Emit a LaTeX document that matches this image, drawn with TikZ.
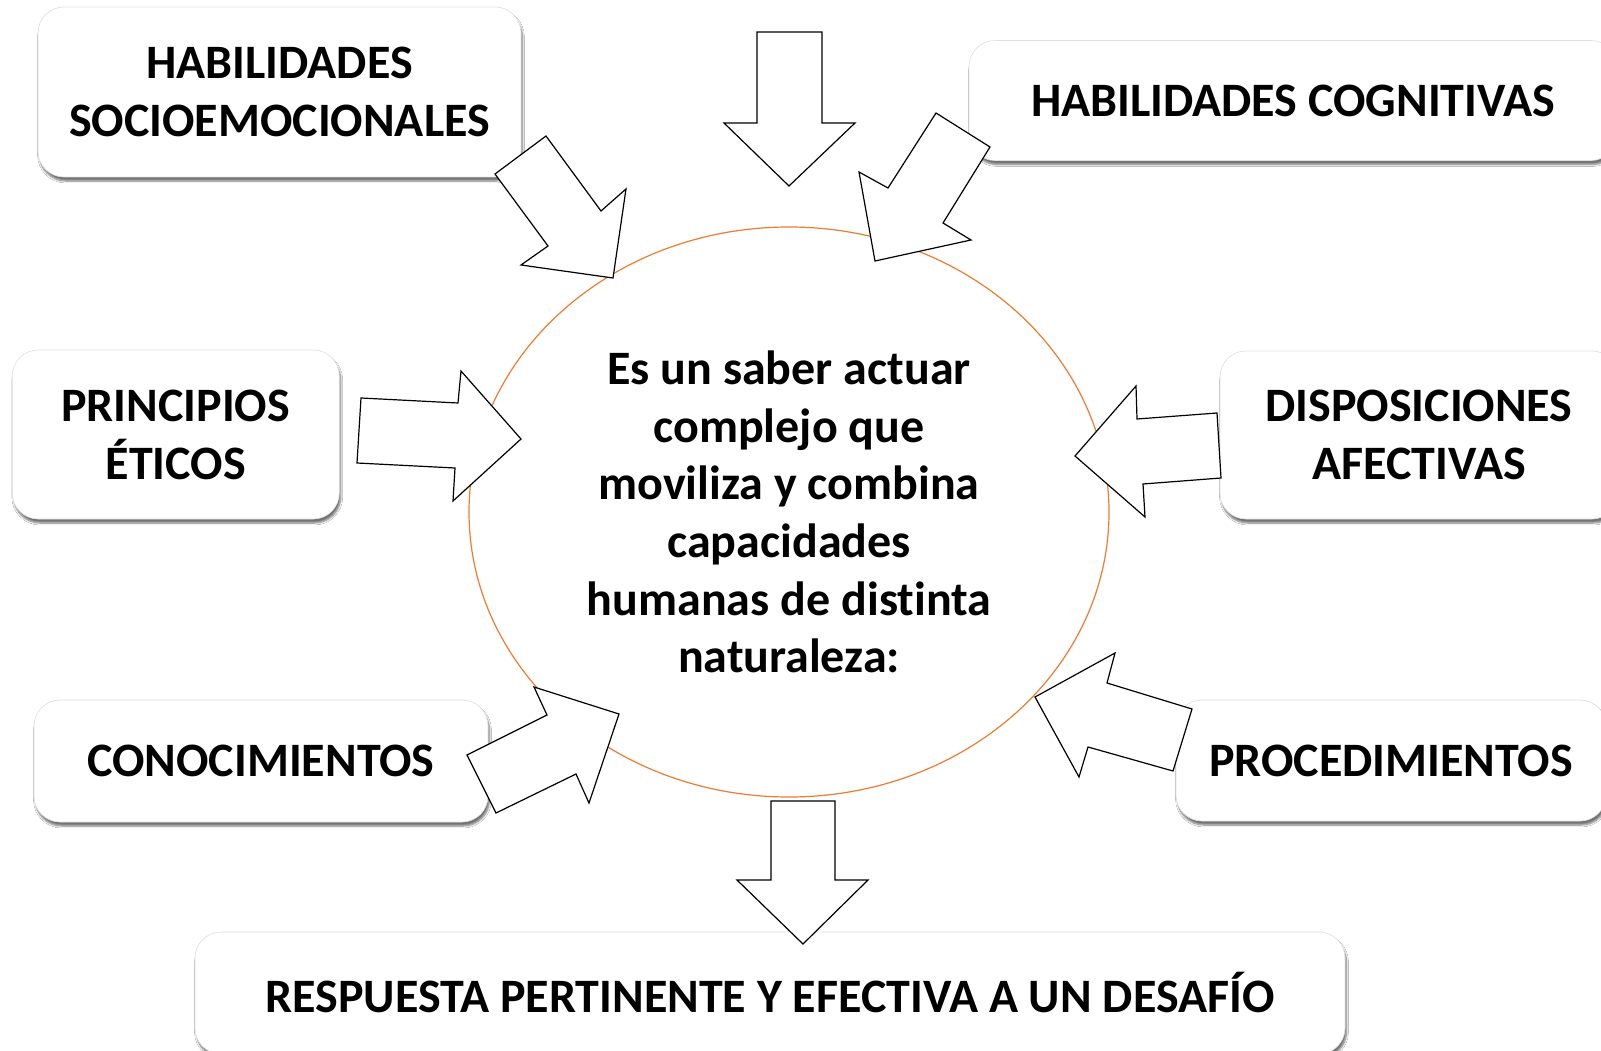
\documentclass[tikz,border=0pt]{standalone}
\usepackage{fontspec}
\setmainfont{Carlito}[Ligatures=NoCommon]
\usetikzlibrary{shapes.geometric,shadows.blur}
\definecolor{orangeC}{HTML}{ED7D31}
\tikzset{
  box/.style={rounded corners=26pt, fill=white, draw=black!12, line width=0.6pt,
    blur shadow={shadow xshift=1.5pt, shadow yshift=-4pt, shadow blur steps=6, shadow opacity=55},
    align=center, inner sep=0pt, font=\bfseries\fontsize{48}{58}\selectfont},
  blockarrow/.style={fill=white, draw=black, line width=1.2pt, line join=miter},
  centertext/.style={ellipse, draw=orangeC, line width=1.2pt, minimum width=640pt, minimum height=570pt,
    inner sep=0pt, align=center, font=\bfseries\fontsize{48}{57.6}\selectfont}
}
\begin{document}
\begin{tikzpicture}[x=1pt,y=-1pt]
\useasboundingbox (0,0) rectangle (1601,1051);
\fill[white] (0,0) rectangle (1601,1051);
% boxes
\node[box, minimum width=483pt, minimum height=170pt] (b1) at (279.5,92) {HABILIDADES\\SOCIOEMOCIONALES};
\node[box, minimum width=648pt, minimum height=120pt] (b2) at (1293,100.5) {HABILIDADES COGNITIVAS};
\node[box, minimum width=327pt, minimum height=169pt] (b3) at (175.75,434.5) {PRINCIPIOS\\ÉTICOS};
\node[box, minimum width=398pt, minimum height=168pt] (b4) at (1419,435) {DISPOSICIONES\\AFECTIVAS};
\node[box, minimum width=454pt, minimum height=122pt] (b5) at (261,761) {CONOCIMIENTOS};
\node[box, minimum width=430pt, minimum height=121pt] (b6) at (1391,760.5) {PROCEDIMIENTOS};
\node[box, minimum width=1150pt, minimum height=122pt] (b7) at (770,993) {RESPUESTA PERTINENTE Y EFECTIVA A UN DESAFÍO};
% center
\node[centertext] (c) at (789,512) {Es un saber actuar\\complejo que\\moviliza y combina\\capacidades\\humanas de distinta\\naturaleza:};
% arrows
\draw[blockarrow] (757,32) -- (822,32) -- (822,123) -- (855,123) -- (789,186) -- (724,123) -- (757,123) -- cycle;
\draw[blockarrow] (771,801) -- (835,801) -- (835,880) -- (868,880) -- (803,944) -- (737,880) -- (771,880) -- cycle;
\draw[blockarrow] (546,136) -- (601,211) -- (626,189) -- (613,278) -- (521,265) -- (548,246) -- (495,174) -- cycle;
\draw[blockarrow] (936,113) -- (990,147) -- (943,223) -- (971,240) -- (875,261) -- (859,172) -- (888,188) -- cycle;
\draw[blockarrow] (361,398) -- (458,403) -- (461,371) -- (521,439) -- (453,501) -- (455,468) -- (357,463) -- cycle;
\draw[blockarrow] (1221,478) -- (1143,484) -- (1145,517) -- (1075,456) -- (1136,386) -- (1137,419) -- (1217,413) -- cycle;
\draw[blockarrow] (496,813) -- (576,774) -- (589,803) -- (619,714) -- (534,687) -- (547,715) -- (467,755) -- cycle;
\draw[blockarrow] (1192,709) -- (1107,683) -- (1115,653) -- (1035,697) -- (1079,777) -- (1088,747) -- (1173,771) -- cycle;
\end{tikzpicture}
\end{document}
